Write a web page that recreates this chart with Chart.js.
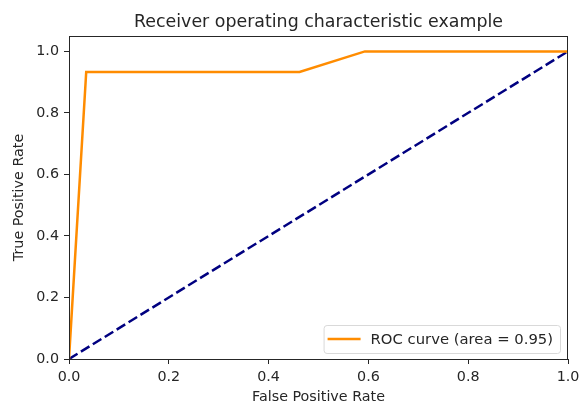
<!DOCTYPE html>
<html>
<head>
<meta charset="utf-8">
<script src="https://cdn.jsdelivr.net/npm/chart.js@4.4.0/dist/chart.umd.min.js"></script>
<style>
  html, body { margin: 0; padding: 0; background: #fff; }
  #wrap { width: 579px; height: 409px; }
</style>
</head>
<body>
<div id="wrap"><canvas id="roc" width="579" height="409"></canvas></div>
<script>
// ROC curve points (FPR, TPR)
const rocFpr = [0, 0.0345, 0.462, 0.593, 1];
const rocTpr = [0, 0.933, 0.933, 1, 1];
// chance diagonal
const diagX = [0, 1];
const diagY = [0, 1];
const xTicks = [0, 0.2, 0.4, 0.6, 0.8, 1.0];
const yTicks = [0, 0.2, 0.4, 0.6, 0.8, 1.0];
const chartTitle = 'Receiver operating characteristic example';
const legendLabel = 'ROC curve (area = 0.95)';

const FONT = 'DejaVu Sans';
const INK = '#262626';
const TXT = 14.3;

const toPoints = (xs, ys) => xs.map((x, i) => ({ x, y: ys[i] }));

// title centred over the axes, frame on four sides, legend in lower right
const framePlugin = {
    id: 'frame',
    afterDraw(chart) {
        const { ctx, chartArea: a } = chart;
        ctx.save();
        ctx.fillStyle = INK;
        ctx.font = `17.4px "${FONT}"`;
        ctx.textAlign = 'center';
        ctx.textBaseline = 'alphabetic';
        ctx.fillText(chartTitle, (a.left + a.right) / 2, 26.5);

        ctx.strokeStyle = INK;
        ctx.lineWidth = 1;
        ctx.strokeRect(a.left + 0.5, a.top + 0.5, a.right - a.left - 1, a.bottom - a.top);

        // legend box
        ctx.font = `14.8px "${FONT}"`;
        ctx.textAlign = 'left';
        const tw = ctx.measureText(legendLabel).width;
        const bw = tw + 54, bh = 28;
        const bx = a.right - 8 - bw, by = a.bottom - 6 - bh;
        ctx.beginPath();
        ctx.roundRect(bx + 0.5, by + 0.5, bw, bh, 3);
        ctx.fillStyle = 'rgba(255,255,255,0.8)';
        ctx.fill();
        ctx.lineWidth = 1;
        ctx.strokeStyle = '#d9d9d9';
        ctx.stroke();
        ctx.strokeStyle = '#ff8c00';
        ctx.lineWidth = 2.5;
        ctx.beginPath();
        ctx.moveTo(bx + 4, by + bh / 2);
        ctx.lineTo(bx + 37, by + bh / 2);
        ctx.stroke();
        ctx.fillStyle = INK;
        ctx.textBaseline = 'middle';
        ctx.fillText(legendLabel, bx + 47, by + bh / 2 + 1);
        ctx.restore();
    }
};

new Chart(document.getElementById('roc'), {
    type: 'scatter',
    data: {
        datasets: [
            {
                label: legendLabel,
                data: toPoints(rocFpr, rocTpr),
                showLine: true,
                borderColor: '#ff8c00',
                borderWidth: 2.5,
                pointRadius: 0,
                tension: 0
            },
            {
                label: 'chance',
                data: toPoints(diagX, diagY),
                showLine: true,
                borderColor: '#000080',
                borderWidth: 2.5,
                borderDash: [10, 4],
                pointRadius: 0
            }
        ]
    },
    options: {
        responsive: false,
        animation: false,
        devicePixelRatio: 1,
        layout: { padding: { left: 0, right: 11, top: 36, bottom: 0 } },
        plugins: {
            legend: { display: false },
            tooltip: { enabled: false },
            title: { display: false }
        },
        scales: {
            x: {
                type: 'linear',
                min: 0,
                max: 1,
                afterBuildTicks: s => { s.ticks = xTicks.map(v => ({ value: v })); },
                afterFit: s => { s.height = 50; s.paddingLeft = 0; s.paddingRight = 0; },
                grid: { drawOnChartArea: false, drawTicks: true, tickLength: 5, color: INK },
                border: { display: true, color: INK },
                ticks: {
                    color: INK,
                    padding: 5,
                    maxRotation: 0,
                    font: { family: FONT, size: TXT },
                    callback: v => v.toFixed(1)
                },
                title: {
                    display: true,
                    text: 'False Positive Rate',
                    color: INK,
                    font: { family: FONT, size: TXT },
                    padding: { top: 2, bottom: 3 }
                }
            },
            y: {
                type: 'linear',
                min: 0,
                max: 1.05,
                afterBuildTicks: s => { s.ticks = yTicks.map(v => ({ value: v })); },
                afterFit: s => { s.width = 69; s.paddingTop = 0; s.paddingBottom = 0; },
                grid: { drawOnChartArea: false, drawTicks: true, tickLength: 5, color: INK },
                border: { display: true, color: INK },
                ticks: {
                    color: INK,
                    padding: 5,
                    font: { family: FONT, size: TXT },
                    callback: v => v.toFixed(1)
                },
                title: {
                    display: true,
                    text: 'True Positive Rate',
                    color: INK,
                    font: { family: FONT, size: TXT },
                    padding: { top: 11, bottom: 4 }
                }
            }
        }
    },
    plugins: [framePlugin]
});
</script>
</body>
</html>
